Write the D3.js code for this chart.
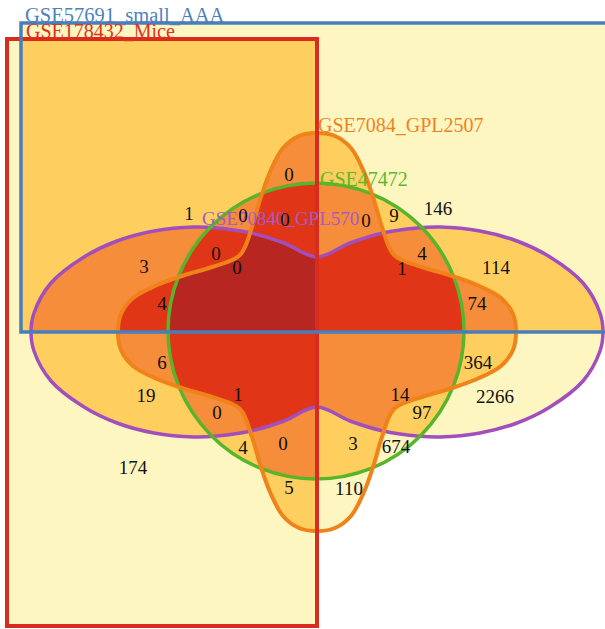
<!DOCTYPE html>
<html>
<head>
<meta charset="utf-8">
<script src="https://cdn.jsdelivr.net/npm/d3@7"></script>
<style>
  html, body { margin: 0; padding: 0; background: #fff; }
  svg { display: block; }
</style>
</head>
<body>
<div id="venn"></div>
<script>
// set names, in drawing-index order
const setNames = ["GSE57691_small_AAA", "GSE178432_Mice", "GSE7084_GPL2507", "GSE47472", "GSE70840_GPL570"];
const setColors = ["#4a7ebb", "#d92b1e", "#f0821a", "#58b52b", "#a24fbd"];
const labelColors = ["#4f81bd", "#e0301e", "#f0821e", "#5db82b", "#a45bc6"];

// region counts as printed on the diagram
const regionCounts = [0, 1, 0, 0, 0, 9, 146, 3, 0, 0, 4, 1, 114, 4, 74, 6, 364, 19, 1, 0, 14, 97, 2266, 4, 0, 3, 674, 174, 5, 110];

// fill colour by number of overlapping sets (1..5)
const depthColors = ["#fef6c1", "#fecf5e", "#f58d3b", "#e03516", "#b82621"];

// ---- layout (diagram units, centre of the flower = 0,0) ----
const labelPos = [
  [-0.14, -0.79], [-0.64, -0.595], [-0.37, -0.585], [-0.16, -0.565], [0.245, -0.56],
  [0.385, -0.585], [0.605, -0.62], [-0.865, -0.33], [-0.505, -0.395], [-0.40, -0.325],
  [0.525, -0.395], [0.425, -0.32], [0.895, -0.325], [-0.775, -0.145], [0.80, -0.145],
  [-0.775, 0.15], [0.805, 0.15], [-0.855, 0.315], [-0.395, 0.31], [-0.50, 0.40],
  [0.415, 0.31], [0.525, 0.40], [0.89, 0.32], [-0.37, 0.575], [-0.17, 0.555],
  [0.18, 0.555], [0.395, 0.57], [-0.92, 0.675], [-0.14, 0.775], [0.16, 0.78]
];
const titlePos = [[-1.46, -1.55], [-1.455, -1.47], [0.005, -1.0], [0.015, -0.73], [-0.575, -0.535]];
const titleSize = [20.5, 20, 20, 20, 19];

// one quadrant of each curved shape, mirrored into the other three
const orangeQuad = [[0, -0.995], [-0.09, -0.98], [-0.17, -0.92], [-0.235, -0.80], [-0.285, -0.66],
  [-0.325, -0.525], [-0.385, -0.385], [-0.525, -0.325], [-0.66, -0.285], [-0.80, -0.235],
  [-0.92, -0.17], [-0.98, -0.09], [-0.995, 0]];
const purpleQuad = [[0, -0.375], [0.165, -0.445], [0.33, -0.495], [0.5, -0.52], [0.615, -0.525],
  [0.815, -0.505], [1.0, -0.455], [1.165, -0.375], [1.33, -0.245], [1.415, -0.095], [1.43, 0]];

const width = 605, height = 629;

const x = d3.scaleLinear().domain([-1, 1]).range([117, 517]);
const y = d3.scaleLinear().domain([-1, 1]).range([132, 532]);

function mirrorQuad(q) {
  return [
    ...q,
    ...q.slice(0, -1).reverse().map(([a, b]) => [a, -b]),
    ...q.slice(1).map(([a, b]) => [-a, -b]),
    ...q.slice(1, -1).reverse().map(([a, b]) => [-a, b])
  ];
}

const curve = d3.line()
  .x(p => x(p[0]))
  .y(p => y(p[1]))
  .curve(d3.curveCatmullRomClosed.alpha(0.5));

function rectPath(x0, y0, x1, y1) {
  const p = d3.path();
  p.rect(x(x0), y(y0), x(x1) - x(x0), y(y1) - y(y0));
  return p.toString();
}

function circlePath(cx, cy, r) {
  const p = d3.path();
  const px = x(cx), py = y(cy), pr = x(r) - x(0);
  p.moveTo(px + pr, py);
  p.arc(px, py, pr, 0, 2 * Math.PI);
  p.closePath();
  return p.toString();
}

const shapes = [
  rectPath(-1.48, -1.545, 1.55, 0),      // blue
  rectPath(-1.55, -1.465, 0, 1.47),      // red
  curve(mirrorQuad(orangeQuad)),         // orange
  circlePath(-0.005, -0.005, 0.74),      // green
  curve(mirrorQuad(purpleQuad))          // purple
];

const svg = d3.select("#venn").append("svg")
  .attr("width", width)
  .attr("height", height);

const defs = svg.append("defs");
defs.selectAll("clipPath")
  .data(shapes)
  .join("clipPath")
  .attr("id", (d, i) => "clip" + i)
  .append("path")
  .attr("d", d => d);

// fill every subset intersection, deeper overlaps painted last
const fills = svg.append("g");
const subsets = d3.range(1, 32)
  .map(m => d3.range(5).filter(i => m & (1 << i)))
  .sort((a, b) => a.length - b.length);

subsets.forEach(s => {
  let g = fills;
  s.slice(1).forEach(i => { g = g.append("g").attr("clip-path", `url(#clip${i})`); });
  g.append("path").attr("d", shapes[s[0]]).attr("fill", depthColors[s.length - 1]);
});

// outlines
const strokeOrder = [4, 3, 2, 1, 0];
const strokeWidth = [3.5, 4, 4, 3.5, 3.5];
svg.append("g").selectAll("path")
  .data(strokeOrder)
  .join("path")
  .attr("d", i => shapes[i])
  .attr("fill", "none")
  .attr("stroke", i => setColors[i])
  .attr("stroke-width", i => strokeWidth[i]);

// set titles
svg.append("g").selectAll("text")
  .data(setNames)
  .join("text")
  .attr("x", (d, i) => x(titlePos[i][0]))
  .attr("y", (d, i) => y(titlePos[i][1]))
  .attr("fill", (d, i) => labelColors[i])
  .style("font-family", "'Liberation Serif', 'DejaVu Serif', serif")
  .style("font-size", (d, i) => titleSize[i] + "px")
  .text(d => d);

// region counts
svg.append("g").selectAll("text")
  .data(regionCounts)
  .join("text")
  .attr("x", (d, i) => x(labelPos[i][0]))
  .attr("y", (d, i) => y(labelPos[i][1]))
  .attr("dy", "0.35em")
  .attr("text-anchor", "middle")
  .attr("fill", "#111")
  .style("font-family", "'Liberation Serif', 'DejaVu Serif', serif")
  .style("font-size", "19px")
  .text(d => d);
</script>
</body>
</html>
